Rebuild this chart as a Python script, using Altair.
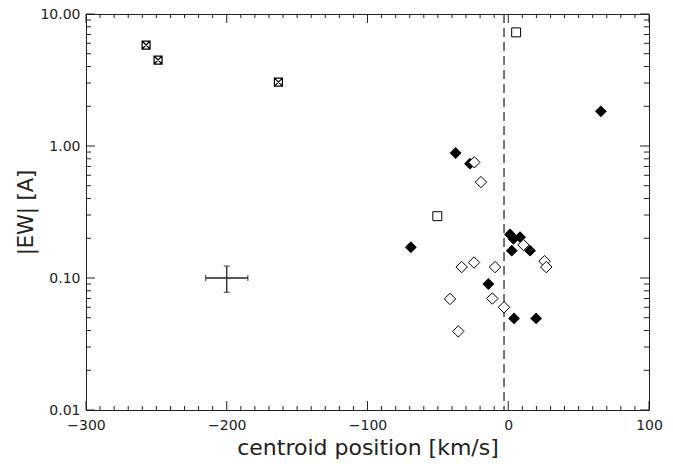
import altair as alt
import pandas as pd

# ---- data ----
filled_x = [-69.2, -37.4, -27.2, 1.3, 3.7, 8.4, 2.5, 15.5, -14.1, 4.1, 19.8, 65.8]
filled_y = [0.171, 0.885, 0.735, 0.214, 0.198, 0.204, 0.161, 0.161, 0.090, 0.0494, 0.0494, 1.83]

open_x = [-24.1, -19.4, 10.8, 25.8, 27.0, -33.1, -24.3, -9.4, -41.4, -11.3, -3.0, -35.5]
open_y = [0.752, 0.533, 0.178, 0.134, 0.121, 0.121, 0.131, 0.121, 0.0694, 0.0699, 0.060, 0.0394]

square_x = [-50.4, 5.6]
square_y = [0.294, 7.26]

crossed_x = [-257.3, -248.8, -163.3]
crossed_y = [5.82, 4.48, 3.05]

dashed_x = [-3.0]

err_x = [-200.0]
err_y = [0.100]
err_xlo = [-215.0]
err_xhi = [-185.0]
err_ylo = [0.078]
err_yhi = [0.123]

x_major = [-300, -200, -100, 0, 100]
x_minor = [v for v in range(-290, 100, 10) if v % 100 != 0]
y_major = [0.01, 0.1, 1.0, 10.0]
y_minor = [0.02, 0.03, 0.04, 0.05, 0.06, 0.07, 0.08, 0.09,
           0.2, 0.3, 0.4, 0.5, 0.6, 0.7, 0.8, 0.9,
           2, 3, 4, 5, 6, 7, 8, 9]

W, H = 563, 396
INK = "#222222"
FONT = "DejaVu Sans"

xs = alt.Scale(domain=[-300, 100], nice=False, zero=False)
ys = alt.Scale(type="log", domain=[0.01, 10], nice=False)

xaxis = alt.Axis(values=x_major, format="d", ticks=False, domain=False, grid=False,
                 title="centroid position [km/s]", labelFontSize=14,
                 labelFont=FONT, labelColor=INK, labelPadding=8,
                 titleFont=FONT, titleFontSize=22, titleFontWeight="normal",
                 titleColor=INK, titlePadding=5, labelFlush=False)
yaxis = alt.Axis(values=y_major, format=".2f", ticks=False, domain=False, grid=False,
                 title="|EW| [A]", labelFontSize=14, labelFont=FONT,
                 labelColor=INK, labelPadding=6, titleFont=FONT,
                 titleFontSize=21, titleFontWeight="normal", titleColor=INK,
                 titlePadding=3, labelFlush=False)


def X(f):
    return alt.X(f, type="quantitative", scale=xs, axis=xaxis)


def Y(f):
    return alt.Y(f, type="quantitative", scale=ys, axis=yaxis)


df_f = pd.DataFrame({"x": filled_x, "y": filled_y})
df_o = pd.DataFrame({"x": open_x, "y": open_y})
df_s = pd.DataFrame({"x": square_x, "y": square_y})
df_c = pd.DataFrame({"x": crossed_x, "y": crossed_y})
df_d = pd.DataFrame({"x": dashed_x})
df_e = pd.DataFrame({"x": err_x, "y": err_y, "xlo": err_xlo, "xhi": err_xhi,
                     "ylo": err_ylo, "yhi": err_yhi})


def xticks(vals, length):
    d = pd.DataFrame({"v": vals})
    bot = alt.Chart(d).mark_rule(color=INK, strokeWidth=1).encode(
        x=X("v"), y=alt.value(H), y2=alt.value(H - length))
    top = alt.Chart(d).mark_rule(color=INK, strokeWidth=1).encode(
        x=X("v"), y=alt.value(0), y2=alt.value(length))
    return [bot, top]


def yticks(vals, length):
    d = pd.DataFrame({"v": vals})
    left = alt.Chart(d).mark_rule(color=INK, strokeWidth=1).encode(
        y=Y("v"), x=alt.value(0), x2=alt.value(length))
    right = alt.Chart(d).mark_rule(color=INK, strokeWidth=1).encode(
        y=Y("v"), x=alt.value(W), x2=alt.value(W - length))
    return [left, right]


ticks = xticks(x_major, 9) + xticks(x_minor, 4) + yticks(y_major, 9) + yticks(y_minor, 5)

dashed = alt.Chart(df_d).mark_rule(color="#555555", strokeWidth=1.6, strokeDash=[9, 5]).encode(
    x=X("x"), y=alt.value(0), y2=alt.value(H))

filled = alt.Chart(df_f).mark_point(shape="diamond", filled=True, color="black",
                                    size=140, opacity=1).encode(x=X("x"), y=Y("y"))

opend = alt.Chart(df_o).mark_point(shape="diamond", fill="white", stroke="black",
                                   strokeWidth=1, size=130, opacity=1,
                                   fillOpacity=1).encode(x=X("x"), y=Y("y"))

squares = alt.Chart(df_s).mark_point(shape="square", fill="white", stroke="black",
                                     strokeWidth=1, size=80, opacity=1,
                                     fillOpacity=1).encode(x=X("x"), y=Y("y"))

crossed = alt.Chart(df_c).mark_point(shape="M-1,-1L1,-1L1,1L-1,1ZM-1,-1L1,1M1,-1L-1,1",
                                     fill="white", stroke="black", strokeWidth=1.2,
                                     size=64, opacity=1, fillOpacity=1).encode(
    x=X("x"), y=Y("y"))

eb_h = alt.Chart(df_e).mark_rule(color=INK, strokeWidth=1.3).encode(
    x=X("xlo"), x2="xhi:Q", y=Y("y"))
eb_v = alt.Chart(df_e).mark_rule(color=INK, strokeWidth=1.3).encode(
    x=X("x"), y=Y("ylo"), y2="yhi:Q")
cap_l = alt.Chart(df_e).mark_tick(color=INK, orient="vertical", size=6, thickness=1.3).encode(
    x=X("xlo"), y=Y("y"))
cap_r = alt.Chart(df_e).mark_tick(color=INK, orient="vertical", size=6, thickness=1.3).encode(
    x=X("xhi"), y=Y("y"))
cap_t = alt.Chart(df_e).mark_tick(color=INK, orient="horizontal", size=6, thickness=1.3).encode(
    x=X("x"), y=Y("yhi"))
cap_b = alt.Chart(df_e).mark_tick(color=INK, orient="horizontal", size=6, thickness=1.3).encode(
    x=X("x"), y=Y("ylo"))

chart = alt.layer(
    *ticks, dashed, filled, opend, squares, crossed,
    eb_h, eb_v, cap_l, cap_r, cap_t, cap_b
).properties(
    width=W, height=H,
    autosize=alt.AutoSizeParams(type="none"),
    padding={"left": 86, "top": 14, "right": 24, "bottom": 56},
    background="white",
).configure_view(stroke=INK, strokeWidth=1)

chart.save("out.html", embed_options={"renderer": "svg", "actions": False})
